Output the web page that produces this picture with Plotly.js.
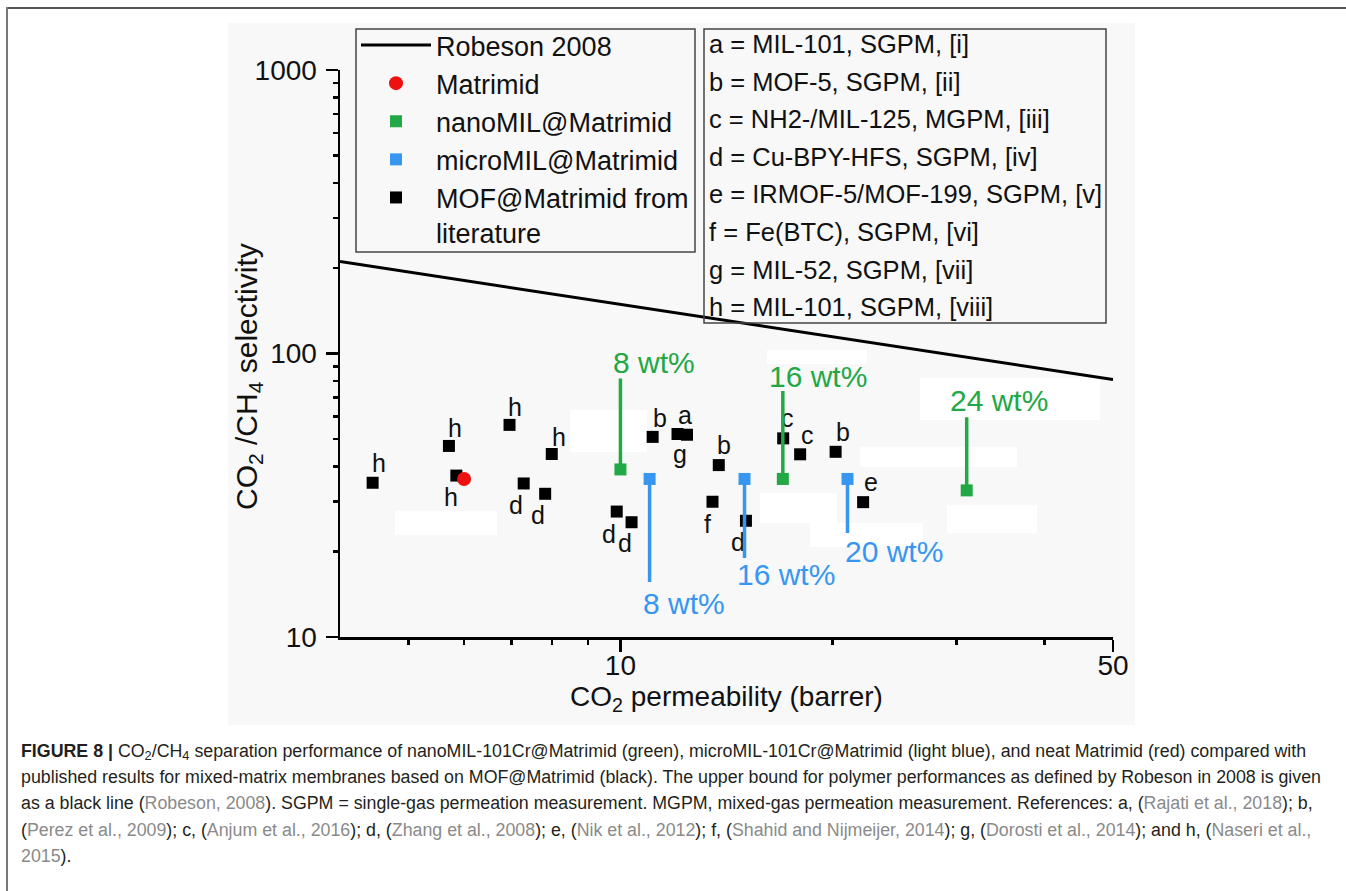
<!DOCTYPE html>
<html><head><meta charset="utf-8">
<script src="https://cdn.plot.ly/plotly-3.0.1.min.js"></script>
<style>
html,body{margin:0;padding:0;background:#fff;}
#wrap{position:relative;width:1346px;height:891px;overflow:hidden;}
#chart{position:absolute;left:0;top:0;width:1346px;height:891px;}
#frameTop{position:absolute;left:6px;top:7px;width:1340px;height:0;border-top:2px solid #555;pointer-events:none;}
#frameLeft{position:absolute;left:6px;top:7px;width:0;height:884px;border-left:2px solid #777;pointer-events:none;}
#caption{position:absolute;left:21px;top:738px;font-family:"Liberation Sans",Arial,sans-serif;font-size:18px;line-height:26.2px;color:#231f20;white-space:nowrap;transform-origin:0 0;}
#caption .ref{color:#8a8a8a;}
#caption sub{font-size:0.72em;vertical-align:-0.2em;line-height:0;}
</style></head>
<body>
<div id="wrap">
<div id="chart"></div>
<div id="frameTop"></div><div id="frameLeft"></div>
<div id="caption">
<div id="cap1"><b>FIGURE 8 |</b> CO<sub>2</sub>/CH<sub>4</sub> separation performance of nanoMIL-101Cr@Matrimid (green), microMIL-101Cr@Matrimid (light blue), and neat Matrimid (red) compared with</div>
<div>published results for mixed-matrix membranes based on MOF@Matrimid (black). The upper bound for polymer performances as defined by Robeson in 2008 is given</div>
<div>as a black line (<span class="ref">Robeson, 2008</span>). SGPM = single-gas permeation measurement. MGPM, mixed-gas permeation measurement. References: a, (<span class="ref">Rajati et al., 2018</span>); b,</div>
<div>(<span class="ref">Perez et al., 2009</span>); c, (<span class="ref">Anjum et al., 2016</span>); d, (<span class="ref">Zhang et al., 2008</span>); e, (<span class="ref">Nik et al., 2012</span>); f, (<span class="ref">Shahid and Nijmeijer, 2014</span>); g, (<span class="ref">Dorosti et al., 2014</span>); and h, (<span class="ref">Naseri et al.,</span></div>
<div><span class="ref">2015</span>).</div>
</div>
</div>
<script>
// ---------------- data ----------------
const robesonX = [4, 50];
const robesonY = [211, 81];

const matrimidX = [6.0];
const matrimidY = [36.1];

const nanoX = [10.0, 17.0, 31.0];
const nanoY = [39.0, 36.1, 32.9];
const nanoLabels = ['8 wt%', '16 wt%', '24 wt%'];

const microX = [11.0, 15.0, 21.0];
const microY = [36.1, 36.1, 36.1];
const microLabels = ['8 wt%', '16 wt%', '20 wt%'];

const mofX = [4.45, 5.71, 5.85, 6.96, 7.29, 7.82, 7.99, 9.88, 10.37, 11.11, 12.43, 12.05, 13.79, 13.51, 15.07, 17.02, 17.99, 20.2, 22.1];
const mofY = [35.0, 47.2, 37.1, 56.0, 34.8, 32.0, 44.2, 27.7, 25.4, 50.8, 51.7, 52.0, 40.4, 30.0, 25.7, 50.2, 44.1, 45.0, 29.9];
const mofLetters = ['h', 'h', 'h', 'h', 'd', 'd', 'h', 'd', 'd', 'b', 'a', 'g', 'b', 'f', 'd', 'c', 'c', 'b', 'e'];

const keyLines = [
  'a = MIL-101, SGPM, [i]',
  'b = MOF-5, SGPM, [ii]',
  'c = NH2-/MIL-125, MGPM, [iii]',
  'd = Cu-BPY-HFS, SGPM, [iv]',
  'e = IRMOF-5/MOF-199, SGPM, [v]',
  'f = Fe(BTC), SGPM, [vi]',
  'g = MIL-52, SGPM, [vii]',
  'h = MIL-101, SGPM, [viii]'
];

const xTickVals = [10, 50];
const xMinorVals = [5, 6, 7, 8, 9, 20, 30, 40];
const yTickVals = [10, 100, 1000];
const yMinorVals = [20, 30, 40, 50, 60, 70, 80, 90, 200, 300, 400, 500, 600, 700, 800, 900];

// ---------------- layout helpers (pixel placement) ----------------
const L = 340, T = 70, W = 773, H = 567;
const px = v => (v - L) / W;
const py = v => (T + H - v) / H;

const FONT = '"Liberation Sans", Arial, sans-serif';
const GREEN = '#22a845';
const BLUE = '#3797f0';
const RED = '#ee1111';

// label offsets (screen px, dy positive = down) for letter labels
const letterOffsets = [[6,-20],[6,-18],[-5,21],[5,-18],[-8,22],[-7,21],[7,-17],[-8,22],[-7,21],[7,-19],[-2,-20],[2,20],[5,-20],[-5,22],[-8,21],[4,-20],[7,-19],[7,-20],[8,-20]];
const nanoStem = [92, 89, 74];
const nanoTextOff = [[34,-107],[35,-102],[32,-90]];
const microStem = [104, 80, 55];
const microTextOff = [[34,125],[41,96],[46,73]];

const traces = [
  {x: robesonX, y: robesonY, mode: 'lines', name: 'Robeson 2008', line: {color: '#000', width: 3}, legendrank: 1},
  {x: mofX, y: mofY, mode: 'markers', name: 'MOF@Matrimid from<br>literature', marker: {symbol: 'square', size: 12, color: '#000'}, legendrank: 5},
  {x: matrimidX, y: matrimidY, mode: 'markers', name: 'Matrimid', marker: {symbol: 'circle', size: 14, color: RED}, legendrank: 2},
  {x: nanoX, y: nanoY, mode: 'markers', name: 'nanoMIL@Matrimid', marker: {symbol: 'square', size: 12, color: GREEN}, legendrank: 3},
  {x: microX, y: microY, mode: 'markers', name: 'microMIL@Matrimid', marker: {symbol: 'square', size: 12, color: BLUE}, legendrank: 4}
];

const annotations = [];
const shapes = [
  {type: 'rect', xref: 'paper', yref: 'paper', x0: px(228), x1: px(1135), y0: py(725), y1: py(23), fillcolor: '#f8f8f8', line: {width: 0}, layer: 'below'}
];
const patches = [[395,511,497,535],[570,410,647,452],[767,350,867,364],[920,378,1100,420],[860,447,1017,467],[947,505,1037,533],[760,493,837,523],[810,523,923,547]];
patches.forEach(p => shapes.push({type: 'rect', xref: 'paper', yref: 'paper', x0: px(p[0]), x1: px(p[2]), y0: py(p[3]), y1: py(p[1]), fillcolor: '#ffffff', line: {width: 0}, layer: 'below'}));

// letter labels
mofX.forEach((xv, i) => {
  annotations.push({x: Math.log10(xv), y: Math.log10(mofY[i]), xref: 'x', yref: 'y', text: mofLetters[i], showarrow: false,
    xshift: letterOffsets[i][0], yshift: -letterOffsets[i][1], font: {family: FONT, size: 25, color: '#111'}});
});
// stems (arrow-only annotations anchored on the data points) + wt% labels
function addStem(xs, ys, stems, offs, labels, color, dir) {
  xs.forEach((xv, i) => {
    const ax = Math.log10(xv), ay = Math.log10(ys[i]);
    annotations.push({x: ax, y: ay, xref: 'x', yref: 'y', text: ' ', font: {size: 1}, showarrow: true, arrowhead: 0,
      arrowwidth: 3.5, arrowcolor: color, ax: 0, ay: dir * stems[i], standoff: 0, borderpad: 0});
    annotations.push({x: ax, y: ay, xref: 'x', yref: 'y', text: labels[i], showarrow: false,
      xshift: offs[i][0], yshift: -offs[i][1], font: {family: FONT, size: 30, color: color}});
  });
}
addStem(nanoX, nanoY, nanoStem, nanoTextOff, nanoLabels, GREEN, -1);
addStem(microX, microY, microStem, microTextOff, microLabels, BLUE, 1);

// key box text
keyLines.forEach((t, i) => {
  annotations.push({x: px(707), y: py(44 + i * 37.6), xref: 'paper', yref: 'paper', xanchor: 'left', yanchor: 'middle',
    text: t, showarrow: false, font: {family: FONT, size: 25.5, color: '#111'}});
});
// y title
annotations.push({x: px(248), y: py(377), xref: 'paper', yref: 'paper', xanchor: 'center', yanchor: 'middle', textangle: -90,
  text: 'CO<sub>2</sub> /CH<sub>4</sub> selectivity', showarrow: false, font: {family: FONT, size: 30, color: '#111'}});

// legend and key frames
shapes.push({type: 'rect', xref: 'paper', yref: 'paper', x0: px(356), x1: px(695), y0: py(252), y1: py(29), line: {color: '#444', width: 1.5}, fillcolor: 'rgba(0,0,0,0)'});
shapes.push({type: 'rect', xref: 'paper', yref: 'paper', x0: px(704), x1: px(1106), y0: py(323), y1: py(29), line: {color: '#444', width: 1.5}, fillcolor: 'rgba(0,0,0,0)'});

const axisCommon = {
  type: 'log', showline: true, linecolor: '#000', linewidth: 2.5, showgrid: false, zeroline: false,
  ticks: 'outside', ticklen: 12, tickwidth: 2.5, tickcolor: '#000', tickmode: 'array',
  tickfont: {family: FONT, size: 28, color: '#111'}, automargin: false
};

const layout = {
  width: 1346, height: 891,
  margin: {l: L, r: 1346 - L - W, t: T, b: 891 - T - H},
  paper_bgcolor: '#fff', plot_bgcolor: 'rgba(0,0,0,0)',
  font: {family: FONT, color: '#111'},
  xaxis: Object.assign({}, axisCommon, {
    range: [Math.log10(4), Math.log10(50)], tickvals: xTickVals, ticktext: xTickVals.map(String),
    minor: {tickmode: 'array', tickvals: xMinorVals, ticks: 'outside', ticklen: 5, tickwidth: 2.5, tickcolor: '#000', showgrid: false},
    title: {text: 'CO<sub>2</sub> permeability (barrer)', font: {family: FONT, size: 28, color: '#111'}, standoff: 0},
    ticklabelstandoff: -10
  }),
  yaxis: Object.assign({}, axisCommon, {
    range: [1, 3], tickvals: yTickVals, ticktext: yTickVals.map(String),
    minor: {tickmode: 'array', tickvals: yMinorVals, ticks: 'outside', ticklen: 5, tickwidth: 2.5, tickcolor: '#000', showgrid: false},
    ticklabelstandoff: 3
  }),
  showlegend: true,
  legend: {x: px(356), y: py(21), xanchor: 'left', yanchor: 'top', bgcolor: 'rgba(0,0,0,0)', borderwidth: 0,
    font: {family: FONT, size: 27, color: '#111'}, itemwidth: 70, valign: 'top', traceorder: 'normal'},
  annotations: annotations,
  shapes: shapes
};

Plotly.newPlot('chart', traces, layout, {displayModeBar: false, staticPlot: true}).then(() => {
  const cap = document.getElementById('caption');
  const l1 = document.getElementById('cap1');
  const w = l1.getBoundingClientRect().width;
  const target = 1300;
  if (w > 0) cap.style.transform = 'scaleX(' + (target / w) + ')';
});
</script>
</body></html>
